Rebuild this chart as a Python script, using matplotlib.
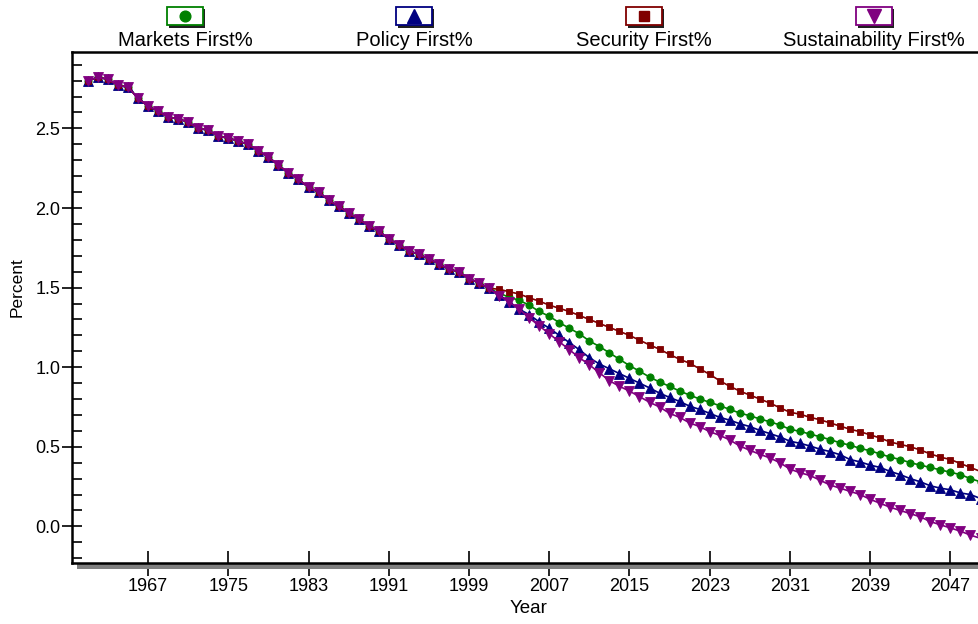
import matplotlib
matplotlib.use('Agg')
import matplotlib.pyplot as plt
from matplotlib import font_manager
from matplotlib.patches import Rectangle
from matplotlib.lines import Line2D
from matplotlib.ticker import MultipleLocator, FormatStrFormatter

plt.rcParams['font.family'] = ['Liberation Sans', 'DejaVu Sans']

# the axis text in the original is set narrow; use the narrow face if present
installed = set(f.name for f in font_manager.fontManager.ttflist)
if 'Liberation Sans Narrow' in installed:
    axis_font = ['Liberation Sans Narrow', 'Liberation Sans']
    tick_size = 14.5
    label_size = 14.5
else:
    axis_font = ['Liberation Sans', 'DejaVu Sans']
    tick_size = 13
    label_size = 12.5

### Data
years = list(range(1961, 2051))

# shared history, 1961-2001
history = [2.80, 2.82, 2.81, 2.77, 2.76, 2.69, 2.64, 2.61, 2.57, 2.56,
           2.54, 2.50, 2.49, 2.45, 2.44, 2.42, 2.40, 2.36, 2.32, 2.27,
           2.22, 2.18, 2.13, 2.10, 2.05, 2.01, 1.97, 1.93, 1.89, 1.855,
           1.805, 1.77, 1.73, 1.71, 1.68, 1.65, 1.615, 1.60, 1.555, 1.53,
           1.495]

# scenarios, 2002-2050
markets = [1.465, 1.44, 1.42, 1.39, 1.35, 1.32, 1.28, 1.245, 1.21, 1.165,
           1.13, 1.09, 1.05, 1.01, 0.975, 0.938, 0.907, 0.88, 0.85, 0.825,
           0.80, 0.78, 0.758, 0.735, 0.712, 0.695, 0.675, 0.657, 0.637, 0.61,
           0.597, 0.58, 0.563, 0.545, 0.525, 0.51, 0.49, 0.475, 0.455, 0.435,
           0.42, 0.40, 0.385, 0.37, 0.355, 0.34, 0.325, 0.30, 0.28]
policy = [1.455, 1.41, 1.365, 1.33, 1.285, 1.245, 1.20, 1.155, 1.11, 1.06,
          1.02, 0.99, 0.96, 0.93, 0.90, 0.87, 0.837, 0.81, 0.785, 0.755,
          0.735, 0.71, 0.685, 0.667, 0.645, 0.627, 0.603, 0.583, 0.562, 0.535,
          0.522, 0.505, 0.485, 0.47, 0.45, 0.42, 0.405, 0.385, 0.37, 0.345,
          0.325, 0.30, 0.28, 0.255, 0.24, 0.23, 0.21, 0.20, 0.175]
security = [1.49, 1.474, 1.46, 1.436, 1.415, 1.39, 1.37, 1.35, 1.325, 1.30,
            1.275, 1.25, 1.225, 1.20, 1.17, 1.14, 1.113, 1.08, 1.05, 1.025,
            0.99, 0.955, 0.915, 0.88, 0.85, 0.825, 0.80, 0.775, 0.745, 0.717,
            0.705, 0.685, 0.67, 0.65, 0.63, 0.61, 0.595, 0.575, 0.555, 0.53,
            0.515, 0.50, 0.48, 0.455, 0.435, 0.42, 0.395, 0.37, 0.345]
sustainability = [1.45, 1.41, 1.365, 1.31, 1.26, 1.21, 1.16, 1.11, 1.06, 1.015,
                  0.965, 0.915, 0.88, 0.85, 0.815, 0.78, 0.75, 0.71, 0.685, 0.65,
                  0.627, 0.595, 0.572, 0.543, 0.505, 0.478, 0.453, 0.43, 0.40, 0.36,
                  0.337, 0.32, 0.29, 0.26, 0.24, 0.22, 0.20, 0.17, 0.145, 0.12,
                  0.10, 0.08, 0.06, 0.03, 0.01, -0.01, -0.03, -0.055, -0.075]

labels = ['Markets First%', 'Policy First%', 'Security First%',
          'Sustainability First%']

# name, values, color, marker, markersize
series = [
    (labels[0], history + markets, '#008000', 'o', 5.2),
    (labels[1], history + policy, '#000080', '^', 7.8),
    (labels[2], history + security, '#800000', 's', 5.0),
    (labels[3], history + sustainability, '#800080', 'v', 7.8),
]

W, H = 979, 624
fig = plt.figure(figsize=(W / 100.0, H / 100.0), dpi=100)

# axes in pixel terms: left 72, top 52, bottom 563, runs off the right edge
ax = fig.add_axes([72.0 / W, (H - 563.0) / H, 907.0 / W, 511.0 / H])

for name, vals, col, mk, ms in series:
    ax.plot(years, vals, color=col, linewidth=1.2, marker=mk,
            markersize=ms, markerfacecolor=col, markeredgecolor=col,
            markeredgewidth=0.6, clip_on=True)

ax.set_xlim(1959.42, 2049.85)
ax.set_ylim(-0.23, 2.98)

ax.set_xticks(list(range(1967, 2050, 8)))
ax.yaxis.set_major_locator(MultipleLocator(0.5))
ax.yaxis.set_minor_locator(MultipleLocator(0.1))
ax.yaxis.set_major_formatter(FormatStrFormatter('%.1f'))

ax.tick_params(axis='x', which='major', direction='inout', length=18,
               width=1.2, pad=2, labelsize=tick_size)
ax.tick_params(axis='y', which='major', direction='inout', length=14,
               width=1.2, pad=1.5, labelsize=tick_size)
ax.tick_params(axis='y', which='minor', direction='in', length=7,
               width=1.2)
for lbl in ax.get_xticklabels() + ax.get_yticklabels():
    lbl.set_family(axis_font)

for side in ['left', 'bottom', 'top']:
    ax.spines[side].set_linewidth(1.8)
    ax.spines[side].set_color('black')
ax.spines['right'].set_visible(False)

# gray drop shadow under the bottom axis
shadow = Rectangle((5.0 / 907, -5.5 / 511), 1.1, 5.5 / 511,
                   transform=ax.transAxes, facecolor='#808080',
                   edgecolor='none', clip_on=False, zorder=2)
ax.add_patch(shadow)

ax.set_xlabel('Year', fontsize=13.5)
ax.set_ylabel('Percent', fontsize=label_size, family=axis_font)
ax.xaxis.set_label_coords(0.503, -0.072)
ax.yaxis.set_label_coords(-0.052, 0.54)

### Legend across the top, drawn by hand
centers = [185, 414, 644, 874]
for cx, (name, vals, col, mk, ms) in zip(centers, series):
    x0 = (cx - 18.0) / W
    y0 = 1 - 25.0 / H
    bw = 36.0 / W
    bh = 18.0 / H
    fig.patches.append(Rectangle((x0 + 2.5 / W, y0 - 2.5 / H), bw, bh,
                                 transform=fig.transFigure,
                                 facecolor='#202020', edgecolor='none'))
    fig.patches.append(Rectangle((x0, y0), bw, bh,
                                 transform=fig.transFigure,
                                 facecolor='white', edgecolor=col,
                                 linewidth=1.3))
    fig.lines.append(Line2D([cx / float(W)], [1 - 16.0 / H],
                            transform=fig.transFigure, marker=mk,
                            markersize=ms + 2.5, color=col,
                            markerfacecolor=col, linestyle='none'))
    fig.text(cx / float(W), 1 - 40.5 / H, name, ha='center', va='center',
             fontsize=14.5)

fig.savefig('out.png', dpi=100)
